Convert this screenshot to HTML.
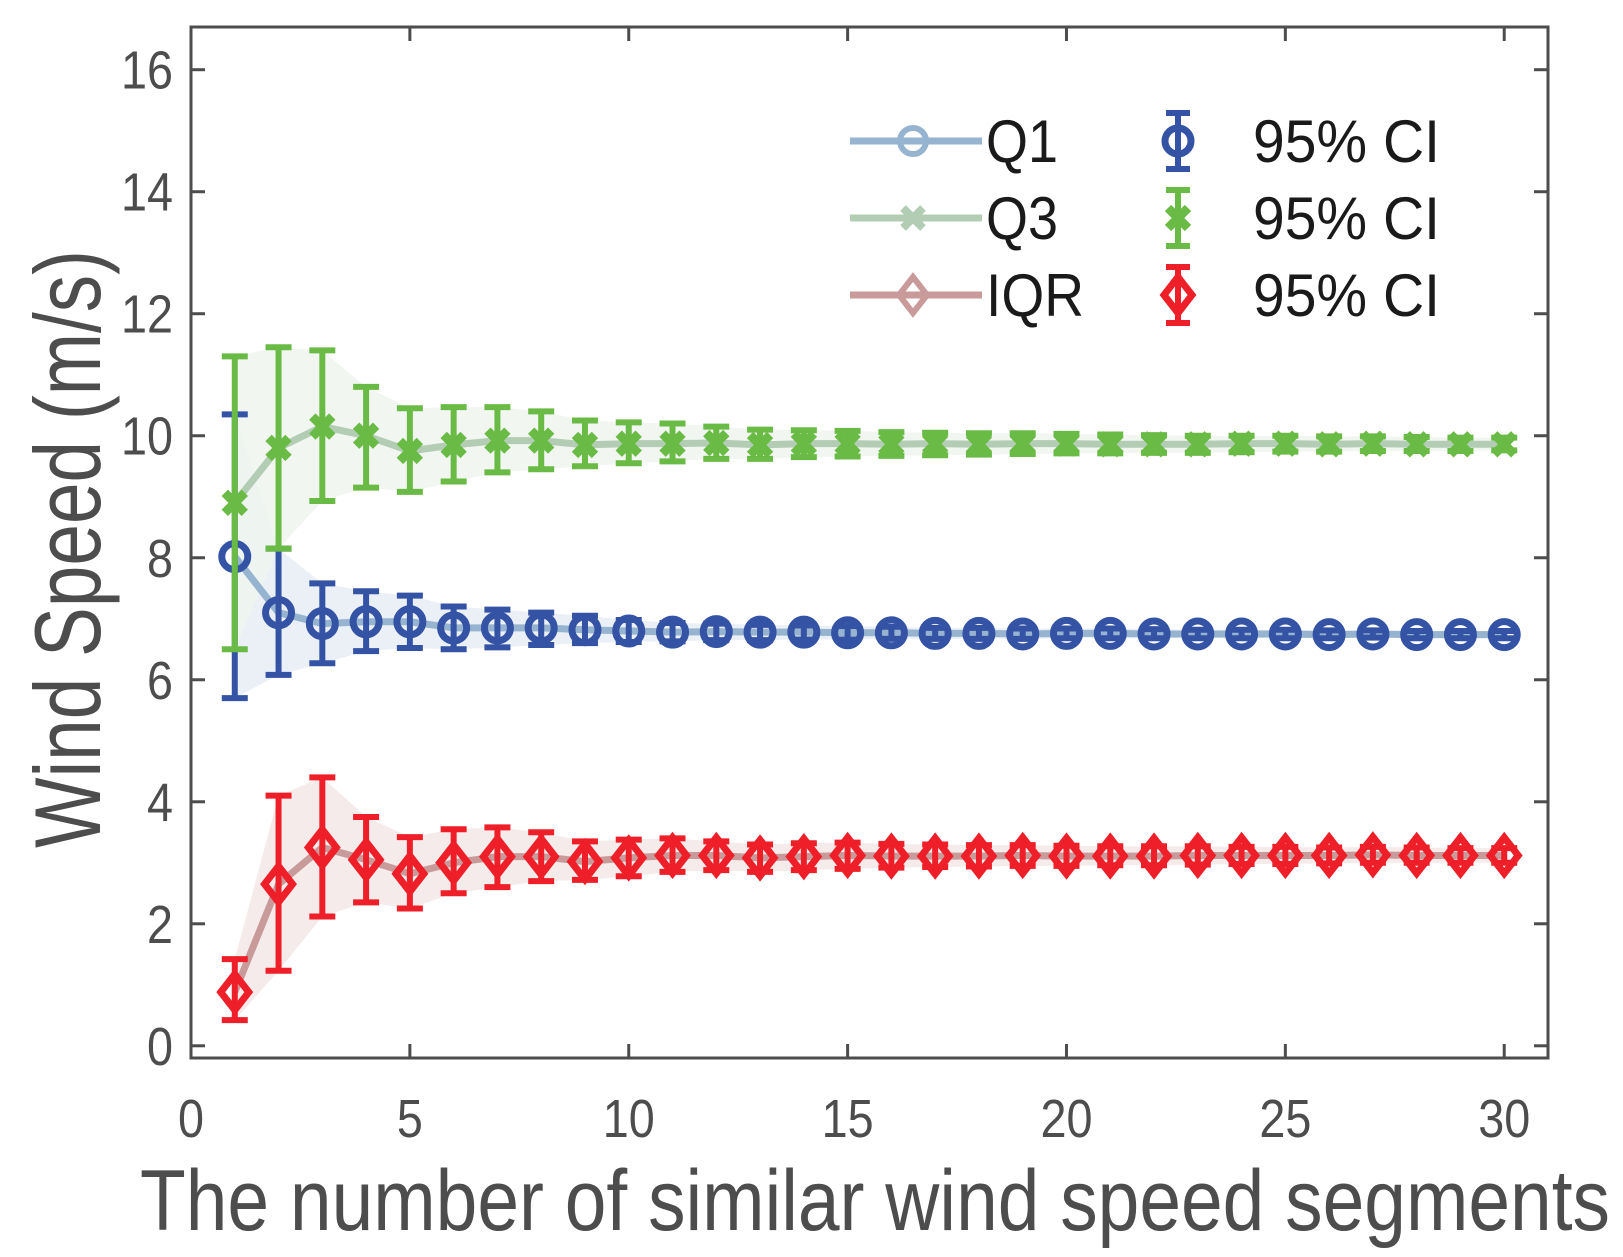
<!DOCTYPE html>
<html><head><meta charset="utf-8"><style>
html,body{margin:0;padding:0;background:#fff;}
svg{display:block;font-family:"Liberation Sans",Arial,sans-serif;}
</style></head><body>
<svg id="chart" width="1623" height="1257" viewBox="0 0 1623 1257">
<g id="bands"></g>
<g id="series"></g>
<g id="axes"></g>
<text x="140" y="1230" font-size="86" fill="#4d4d4d" textLength="1470" lengthAdjust="spacingAndGlyphs">The number of similar wind speed segments</text>
<text transform="translate(100,549) rotate(-90)" font-size="94" fill="#4d4d4d" text-anchor="middle" textLength="598" lengthAdjust="spacingAndGlyphs">Wind Speed (m/s)</text>
<g id="legend"></g>
</svg>
<script>
const xs = [1,2,3,4,5,6,7,8,9,10,11,12,13,14,15,16,17,18,19,20,21,22,23,24,25,26,27,28,29,30];
const q1Mean = [8.02,7.1,6.92,6.95,6.95,6.85,6.85,6.85,6.82,6.8,6.78,6.79,6.78,6.78,6.77,6.77,6.76,6.76,6.75,6.76,6.76,6.75,6.75,6.75,6.75,6.74,6.75,6.74,6.74,6.74];
const q1Lo = [5.7,6.08,6.27,6.47,6.52,6.5,6.53,6.57,6.6,6.62,6.63,6.65,6.65,6.66,6.66,6.67,6.67,6.67,6.67,6.68,6.68,6.68,6.68,6.68,6.68,6.68,6.69,6.68,6.68,6.68];
const q1Hi = [10.35,8.15,7.58,7.45,7.38,7.2,7.15,7.1,7.05,6.98,6.93,6.92,6.9,6.89,6.88,6.87,6.85,6.85,6.84,6.84,6.84,6.83,6.82,6.82,6.82,6.81,6.81,6.8,6.8,6.8];
const q3Mean = [8.9,9.8,10.15,10.0,9.75,9.85,9.92,9.92,9.85,9.87,9.87,9.88,9.85,9.87,9.87,9.86,9.87,9.86,9.87,9.87,9.86,9.86,9.86,9.87,9.87,9.86,9.87,9.86,9.86,9.86];
const q3Lo = [6.5,8.15,8.93,9.15,9.08,9.25,9.4,9.45,9.5,9.55,9.58,9.62,9.62,9.65,9.66,9.67,9.68,9.69,9.7,9.71,9.71,9.72,9.72,9.73,9.74,9.74,9.75,9.75,9.75,9.76];
const q3Hi = [11.3,11.45,11.4,10.8,10.45,10.47,10.47,10.4,10.25,10.22,10.2,10.15,10.1,10.09,10.08,10.06,10.05,10.04,10.04,10.03,10.02,10.01,10.0,10.0,10.0,9.99,9.99,9.98,9.97,9.97];
const iqrMean = [0.88,2.65,3.25,3.05,2.82,3.0,3.1,3.1,3.02,3.08,3.12,3.12,3.08,3.1,3.12,3.11,3.11,3.11,3.12,3.11,3.11,3.11,3.12,3.12,3.12,3.12,3.13,3.12,3.12,3.12];
const iqrLo = [0.42,1.23,2.12,2.35,2.25,2.5,2.6,2.7,2.72,2.78,2.85,2.88,2.85,2.88,2.9,2.92,2.93,2.94,2.95,2.95,2.96,2.96,2.97,2.98,2.98,2.99,3.0,3.0,3.0,3.0];
const iqrHi = [1.42,4.1,4.4,3.75,3.42,3.55,3.58,3.5,3.35,3.38,3.4,3.35,3.3,3.32,3.33,3.31,3.3,3.29,3.29,3.28,3.27,3.27,3.27,3.26,3.26,3.25,3.26,3.25,3.24,3.24];
const xTicks = [0,5,10,15,20,25,30];
const yTicks = [0,2,4,6,8,10,12,14,16];

const NS='http://www.w3.org/2000/svg';
const X0=191, X1=1548, Y0=1058, Y1=27, XMIN=0, XMAX=31, YMIN=-0.2, YMAX=16.7;
function sx(v){return X0+(v-XMIN)/(XMAX-XMIN)*(X1-X0);}
function sy(v){return Y0-(v-YMIN)/(YMAX-YMIN)*(Y0-Y1);}
function mk(tag,attrs,parent){const e=document.createElementNS(NS,tag);for(const k in attrs)e.setAttribute(k,attrs[k]);parent.appendChild(e);return e;}
const bands=document.getElementById('bands'), series=document.getElementById('series'), axes=document.getElementById('axes'), legend=document.getElementById('legend');

function marker(type,cx,cy,color,parent,lw){
  if(type==='o'){return mk('circle',{cx:cx,cy:cy,r:13,fill:'none',stroke:color,'stroke-width':lw},parent);}
  if(type==='x'){return mk('path',{d:`M${cx-10},${cy-10}L${cx+10},${cy+10}M${cx-10},${cy+10}L${cx+10},${cy-10}`,stroke:color,'stroke-width':lw+2,fill:'none'},parent);}
  return mk('path',{d:`M${cx},${cy-18}L${cx+14},${cy}L${cx},${cy+18}L${cx-14},${cy}Z`,fill:'none',stroke:color,'stroke-width':lw},parent);
}

const groups=[
 {name:'q1',m:q1Mean,lo:q1Lo,hi:q1Hi,band:'#e6edf5',line:'#96b3cf',err:'#3453a5',mk:'o'},
 {name:'q3',m:q3Mean,lo:q3Lo,hi:q3Hi,band:'#eef4ee',line:'#b3cdb5',err:'#6abb45',mk:'x'},
 {name:'iqr',m:iqrMean,lo:iqrLo,hi:iqrHi,band:'#f3e7e6',line:'#c99a9a',err:'#ee1f28',mk:'d'}
];
groups.forEach(g=>{
  let d='M'+xs.map((x,i)=>sx(x)+','+sy(g.hi[i])).join('L');
  for(let i=xs.length-1;i>=0;i--) d+='L'+sx(xs[i])+','+sy(g.lo[i]);
  const b=mk('path',{d:d+'Z',fill:g.band,opacity:0.85},bands);
  
  
});
groups.forEach(g=>{
  const l=mk('polyline',{points:xs.map((x,i)=>sx(x)+','+sy(g.m[i])).join(' '),fill:'none',stroke:g.line,'stroke-width':7},series);
  
  
});
groups.forEach(g=>{
  xs.forEach((x,i)=>{
    const gg=mk('g',{},series);
    
    
    const cx=sx(x), yl=sy(g.lo[i]), yh=sy(g.hi[i]);
    mk('line',{x1:cx,x2:cx,y1:yl,y2:yh,stroke:g.err,'stroke-width':6},gg);
    mk('line',{x1:cx-13,x2:cx+13,y1:yl,y2:yl,stroke:g.err,'stroke-width':6},gg);
    mk('line',{x1:cx-13,x2:cx+13,y1:yh,y2:yh,stroke:g.err,'stroke-width':6},gg);
    marker(g.mk,cx,sy(g.m[i]),g.err,gg,7);
  });
});

const box=mk('rect',{x:X0,y:Y1,width:X1-X0,height:Y0-Y1,fill:'none',stroke:'#4d4d4d','stroke-width':3},axes);


xTicks.forEach(t=>{
  const x=sx(t);
  mk('line',{x1:x,x2:x,y1:Y0,y2:Y0-14,stroke:'#4d4d4d','stroke-width':3},axes);
  mk('line',{x1:x,x2:x,y1:Y1,y2:Y1+14,stroke:'#4d4d4d','stroke-width':3},axes);
  const s=String(t);
  const tx=mk('text',{x:x,y:1137,'font-size':54,fill:'#4d4d4d','text-anchor':'middle',textLength:s.length*26,lengthAdjust:'spacingAndGlyphs'},axes);
  tx.textContent=s;
  
  
});
yTicks.forEach(t=>{
  const y=sy(t);
  mk('line',{x1:X0,x2:X0+14,y1:y,y2:y,stroke:'#4d4d4d','stroke-width':3},axes);
  mk('line',{x1:X1,x2:X1-14,y1:y,y2:y,stroke:'#4d4d4d','stroke-width':3},axes);
  const s=String(t);
  const tx=mk('text',{x:173,y:y+19,'font-size':54,fill:'#4d4d4d','text-anchor':'end',textLength:s.length*26,lengthAdjust:'spacingAndGlyphs'},axes);
  tx.textContent=s;
  
  
});

const labels=['Q1','Q3','IQR'];
const labelW=[72,72,98];
const rowsY=[141,218,295];
groups.forEach((g,i)=>{
  const y=rowsY[i];
  const e1=mk('g',{},legend);
  
  
  mk('line',{x1:850,x2:982,y1:y,y2:y,stroke:g.line,'stroke-width':7},e1);
  marker(g.mk,913,y,g.line,e1,6);
  const t=mk('text',{x:986,y:y+21,'font-size':60,fill:'#1a1a1a',textLength:labelW[i],lengthAdjust:'spacingAndGlyphs'},e1);
  t.textContent=labels[i];
  const e2=mk('g',{},legend);
  
  
  mk('line',{x1:1178,x2:1178,y1:y-28,y2:y+28,stroke:g.err,'stroke-width':6},e2);
  mk('line',{x1:1166,x2:1190,y1:y-28,y2:y-28,stroke:g.err,'stroke-width':6},e2);
  mk('line',{x1:1166,x2:1190,y1:y+28,y2:y+28,stroke:g.err,'stroke-width':6},e2);
  marker(g.mk,1178,y,g.err,e2,7);
  const t2=mk('text',{x:1253,y:y+21,'font-size':60,fill:'#1a1a1a',textLength:187,lengthAdjust:'spacingAndGlyphs'},e2);
  t2.textContent='95% CI';
});
</script>
</body></html>
